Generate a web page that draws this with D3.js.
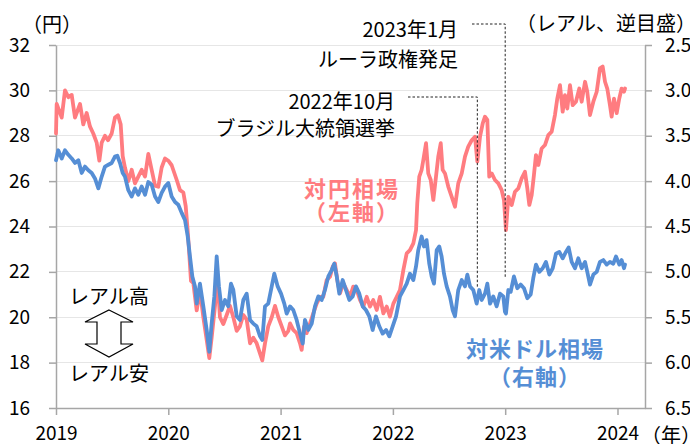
<!DOCTYPE html>
<html><head><meta charset="utf-8">
<script src="https://cdn.jsdelivr.net/npm/d3@7"></script>
<style>
html,body{margin:0;padding:0;background:#fff;}
svg{display:block;font-family:"Noto Sans CJK JP","Noto Sans",sans-serif;}
</style></head>
<body><svg id="c" width="690" height="444"></svg>
<script>
// ---- data (time in decimal years) ----
const jpyTime = [2019.000,2019.006,2019.051,2019.080,2019.110,2019.140,2019.169,2019.214,2019.243,2019.273,2019.303,2019.332,2019.362,2019.386,2019.407,2019.436,2019.463,2019.496,2019.525,2019.552,2019.576,2019.594,2019.614,2019.644,2019.674,2019.703,2019.733,2019.763,2019.793,2019.822,2019.852,2019.882,2019.911,2019.941,2019.971,2020.000,2020.030,2020.075,2020.104,2020.134,2020.155,2020.173,2020.184,2020.202,2020.223,2020.253,2020.282,2020.312,2020.342,2020.365,2020.386,2020.416,2020.436,2020.460,2020.490,2020.520,2020.549,2020.579,2020.609,2020.638,2020.668,2020.698,2020.728,2020.757,2020.787,2020.817,2020.837,2020.861,2020.890,2020.921,2020.950,2020.980,2021.010,2021.039,2021.069,2021.084,2021.113,2021.143,2021.173,2021.188,2021.208,2021.232,2021.262,2021.291,2021.321,2021.351,2021.380,2021.410,2021.440,2021.464,2021.484,2021.505,2021.529,2021.558,2021.589,2021.618,2021.647,2021.678,2021.707,2021.736,2021.767,2021.796,2021.825,2021.856,2021.885,2021.915,2021.945,2021.974,2022.004,2022.034,2022.063,2022.093,2022.123,2022.152,2022.182,2022.206,2022.217,2022.235,2022.256,2022.271,2022.295,2022.315,2022.337,2022.360,2022.384,2022.404,2022.426,2022.443,2022.464,2022.493,2022.524,2022.553,2022.582,2022.613,2022.642,2022.671,2022.702,2022.731,2022.752,2022.776,2022.800,2022.820,2022.841,2022.858,2022.880,2022.909,2022.939,2022.969,2022.989,2023.007,2023.028,2023.058,2023.087,2023.117,2023.147,2023.176,2023.197,2023.215,2023.236,2023.256,2023.274,2023.295,2023.325,2023.354,2023.384,2023.414,2023.443,2023.464,2023.488,2023.512,2023.532,2023.553,2023.577,2023.601,2023.630,2023.660,2023.681,2023.711,2023.731,2023.755,2023.785,2023.815,2023.844,2023.868,2023.889,2023.909,2023.933,2023.948,2023.969,2023.993,2024.016,2024.037,2024.058,2024.067];
const jpyValue = [28.1,29.4,28.8,30.0,29.7,29.8,28.8,29.4,28.5,29.0,28.4,28.1,27.7,26.9,27.7,28.0,27.8,28.1,28.8,28.9,28.5,27.1,26.6,26.0,26.5,25.9,26.2,26.5,26.2,27.2,26.5,25.8,25.75,26.6,27.0,26.9,26.7,26.05,25.6,25.5,24.9,23.8,23.0,21.6,21.5,20.3,21.2,20.0,19.0,18.2,19.1,20.5,21.9,20.0,19.7,20.1,20.5,20.0,19.4,19.6,20.1,19.9,18.85,19.1,18.85,18.4,18.1,18.85,19.6,20.0,20.5,20.0,19.6,19.2,19.4,19.73,19.44,19.3,18.85,18.56,19.58,19.3,19.73,20.17,20.6,20.9,20.9,21.64,21.79,22.23,22.38,21.64,21.05,21.5,21.2,20.9,21.35,21.2,20.76,20.47,20.9,20.47,20.76,20.32,20.9,20.17,20.47,20.03,20.6,20.9,21.2,22.08,22.82,22.96,23.26,23.84,25.02,26.2,26.5,26.93,27.67,26.34,26.05,25.17,26.2,27.08,27.67,26.5,26.34,25.76,25.31,24.87,25.9,26.34,27.08,27.52,27.8,27.96,26.86,27.96,28.55,28.84,28.7,26.2,26.34,26.05,25.9,25.6,25.17,23.84,25.31,24.95,25.53,25.68,26.12,26.41,25.68,24.95,25.39,26.27,27.15,26.71,27.44,27.59,28.03,28.18,28.91,29.64,30.23,29.06,29.79,29.2,30.23,29.35,29.5,30.08,29.5,30.38,29.94,28.91,29.5,29.94,30.97,31.05,30.38,30.08,29.35,28.84,29.64,29.0,29.64,30.08,29.94,30.08];

const usdTime = [2019.000,2019.020,2019.051,2019.080,2019.110,2019.140,2019.169,2019.199,2019.229,2019.258,2019.288,2019.318,2019.347,2019.377,2019.407,2019.436,2019.466,2019.496,2019.525,2019.546,2019.570,2019.594,2019.614,2019.644,2019.674,2019.703,2019.733,2019.763,2019.793,2019.822,2019.852,2019.882,2019.911,2019.941,2019.971,2020.000,2020.030,2020.060,2020.089,2020.119,2020.149,2020.173,2020.193,2020.214,2020.238,2020.253,2020.282,2020.312,2020.342,2020.365,2020.386,2020.410,2020.431,2020.451,2020.476,2020.505,2020.534,2020.558,2020.579,2020.609,2020.638,2020.668,2020.698,2020.728,2020.757,2020.787,2020.817,2020.837,2020.861,2020.890,2020.921,2020.944,2020.974,2021.004,2021.033,2021.054,2021.084,2021.113,2021.143,2021.173,2021.197,2021.217,2021.247,2021.277,2021.306,2021.336,2021.366,2021.395,2021.425,2021.455,2021.478,2021.500,2021.523,2021.553,2021.582,2021.612,2021.642,2021.671,2021.701,2021.731,2021.760,2021.790,2021.820,2021.849,2021.879,2021.909,2021.939,2021.968,2021.998,2022.028,2022.063,2022.093,2022.123,2022.152,2022.182,2022.206,2022.226,2022.256,2022.277,2022.300,2022.324,2022.345,2022.366,2022.390,2022.413,2022.434,2022.455,2022.479,2022.508,2022.532,2022.553,2022.582,2022.613,2022.642,2022.663,2022.687,2022.716,2022.746,2022.769,2022.791,2022.820,2022.841,2022.865,2022.894,2022.924,2022.954,2022.983,2022.998,2023.007,2023.028,2023.049,2023.078,2023.108,2023.138,2023.167,2023.197,2023.227,2023.250,2023.274,2023.304,2023.334,2023.363,2023.393,2023.423,2023.452,2023.482,2023.512,2023.541,2023.565,2023.592,2023.622,2023.651,2023.681,2023.711,2023.731,2023.755,2023.785,2023.815,2023.844,2023.874,2023.904,2023.933,2023.963,2023.987,2024.016,2024.037,2024.058,2024.067];
const usdValue = [3.77,3.66,3.75,3.66,3.71,3.75,3.80,3.77,3.91,3.84,3.88,3.91,3.97,4.08,3.95,3.84,3.82,3.80,3.73,3.72,3.80,3.91,3.95,4.10,4.17,4.08,4.15,4.06,4.15,4.01,4.04,4.17,4.23,4.13,4.06,4.02,4.17,4.23,4.26,4.35,4.43,4.61,4.83,5.05,5.16,5.35,5.13,5.38,5.64,5.88,5.57,5.27,4.83,5.16,5.42,5.31,5.38,5.13,5.20,5.49,5.53,5.31,5.24,5.53,5.57,5.60,5.71,5.75,5.38,5.35,5.16,5.02,5.16,5.24,5.35,5.46,5.38,5.42,5.53,5.68,5.79,5.53,5.64,5.57,5.38,5.27,5.31,5.20,5.05,4.98,4.91,5.05,5.24,5.09,5.20,5.31,5.27,5.16,5.24,5.38,5.42,5.49,5.64,5.49,5.60,5.68,5.64,5.71,5.60,5.49,5.27,5.20,5.13,5.02,5.09,4.94,4.76,4.61,4.72,4.65,4.91,5.05,5.13,4.76,4.72,4.83,5.02,5.16,5.27,5.42,5.49,5.20,5.09,5.16,5.03,5.16,5.20,5.35,5.20,5.31,5.24,5.13,5.35,5.27,5.38,5.24,5.27,5.44,5.46,5.20,5.22,5.05,5.18,5.14,5.18,5.29,5.25,5.07,4.92,5.00,4.96,4.89,5.03,4.96,4.80,4.78,4.85,4.78,4.73,4.89,4.96,4.85,4.96,4.89,5.00,5.14,5.03,5.00,4.89,4.87,4.92,4.89,4.91,4.83,4.92,4.87,4.96,4.92];

const yearTicks = [2019,2020,2021,2022,2023,2024];
const leftTicks = [16,18,20,22,24,26,28,30,32];
const rightTicks = [2.5,3.0,3.5,4.0,4.5,5.0,5.5,6.0,6.5];

// ---- drawing ----
const svg = d3.select("#c");
const L = 56, R = 645, T = 45, B = 408;
const x = d3.scaleLinear().domain([2019, 2024.245]).range([L, R]);
const yL = d3.scaleLinear().domain([16, 32]).range([B, T]);
const yR = d3.scaleLinear().domain([2.5, 6.5]).range([T, B]);

const PINK = "#FF7C80", BLUE = "#558ED5", AX = "#a6a6a6", FS = 19;

// gridlines
svg.append("g").selectAll("line").data(leftTicks.filter(d => d > 16)).join("line")
  .attr("x1", L).attr("x2", R).attr("y1", d => yL(d)).attr("y2", d => yL(d))
  .attr("stroke", "#e6e6e6").attr("stroke-width", 1).attr("shape-rendering", "crispEdges");

function styleAxis(g) {
  g.select(".domain").attr("stroke", AX).attr("stroke-width", 1.5);
  g.selectAll(".tick line").attr("stroke", AX).attr("stroke-width", 1.5);
  g.selectAll("text").attr("fill", "#000").style("font-size", FS + "px")
    .style("font-family", '"Noto Sans CJK JP","Noto Sans",sans-serif');
}
svg.append("g").attr("transform", `translate(${L},0)`)
  .call(d3.axisLeft(yL).tickValues(leftTicks).tickSize(7).tickSizeOuter(0).tickPadding(19).tickFormat(d3.format("d")))
  .call(styleAxis);
svg.append("g").attr("transform", `translate(${R},0)`)
  .call(d3.axisRight(yR).tickValues(rightTicks).tickSize(7).tickSizeOuter(0).tickPadding(13).tickFormat(d3.format(".1f")))
  .call(styleAxis);
svg.append("g").attr("transform", `translate(0,${B})`)
  .call(d3.axisBottom(x).tickValues(yearTicks).tickSize(7).tickSizeOuter(0).tickPadding(12).tickFormat(d3.format("d")))
  .call(styleAxis);

// lines
const jpy = jpyTime.map((t, i) => [t, jpyValue[i]]);
const usd = usdTime.map((t, i) => [t, usdValue[i]]);
svg.append("path").datum(jpy)
  .attr("d", d3.line().x(d => x(d[0])).y(d => yL(d[1])))
  .attr("fill", "none").attr("stroke", PINK).attr("stroke-width", 3.8)
  .attr("stroke-linejoin", "round").attr("stroke-linecap", "round");
svg.append("path").datum(usd)
  .attr("d", d3.line().x(d => x(d[0])).y(d => yR(d[1])))
  .attr("fill", "none").attr("stroke", BLUE).attr("stroke-width", 3.8)
  .attr("stroke-linejoin", "round").attr("stroke-linecap", "round");

// annotation leader lines
const elec = 2022.752, lula = 2023.0;
svg.append("path")
  .attr("d", `M408,${97}H${x(elec)}V287`)
  .attr("fill", "none").attr("stroke", "#222").attr("stroke-width", 1).attr("stroke-dasharray", "2.5,2");
svg.append("path")
  .attr("d", `M472,${24}H${x(lula)}V277`)
  .attr("fill", "none").attr("stroke", "#222").attr("stroke-width", 1).attr("stroke-dasharray", "2.5,2");

function txt(s, xx, yy, opts = {}) {
  return svg.append("text").text(s).attr("x", xx).attr("y", yy)
    .attr("text-anchor", opts.anchor || "start")
    .attr("dominant-baseline", "central")
    .style("font-size", (opts.size || 20) + "px")
    .style("font-weight", opts.weight || "normal")
    .style("letter-spacing", opts.ls || "0px")
    .attr("fill", opts.color || "#000");
}
txt("（円）", 52, 23, {anchor: "middle", size: 20});
txt("（レアル、逆目盛）", 606, 22, {anchor: "middle", size: 20});
txt("（年）", 641, 434, {size: 20});

txt("2023年1月", 458, 28, {anchor: "end"});
txt("ルーラ政権発足", 458, 58, {anchor: "end"});
txt("2022年10月", 395, 100, {anchor: "end"});
txt("ブラジル大統領選挙", 395, 127, {anchor: "end"});

txt("対円相場", 352, 187, {anchor: "middle", size: 22, weight: "bold", color: PINK, ls: "2px"});
txt("（左軸）", 352, 210, {anchor: "middle", size: 22, weight: "bold", color: PINK, ls: "2px"});
txt("対米ドル相場", 535, 347, {anchor: "middle", size: 22, weight: "bold", color: BLUE, ls: "1px"});
txt("（右軸）", 535, 375, {anchor: "middle", size: 22, weight: "bold", color: BLUE, ls: "1px"});

txt("レアル高", 109, 295, {anchor: "middle", size: 20});
txt("レアル安", 109, 372, {anchor: "middle", size: 20});

// double arrow
const ax = 109;
const pts = [[ax,310],[ax+24,322],[ax+12,322],[ax+12,344],[ax+24,344],[ax,357],[ax-24,344],[ax-12,344],[ax-12,322],[ax-24,322]];
svg.append("polygon").attr("points", pts.map(p => p.join(",")).join(" "))
  .attr("fill", "#fff").attr("stroke", "#000").attr("stroke-width", 1.2);
</script></body></html>
